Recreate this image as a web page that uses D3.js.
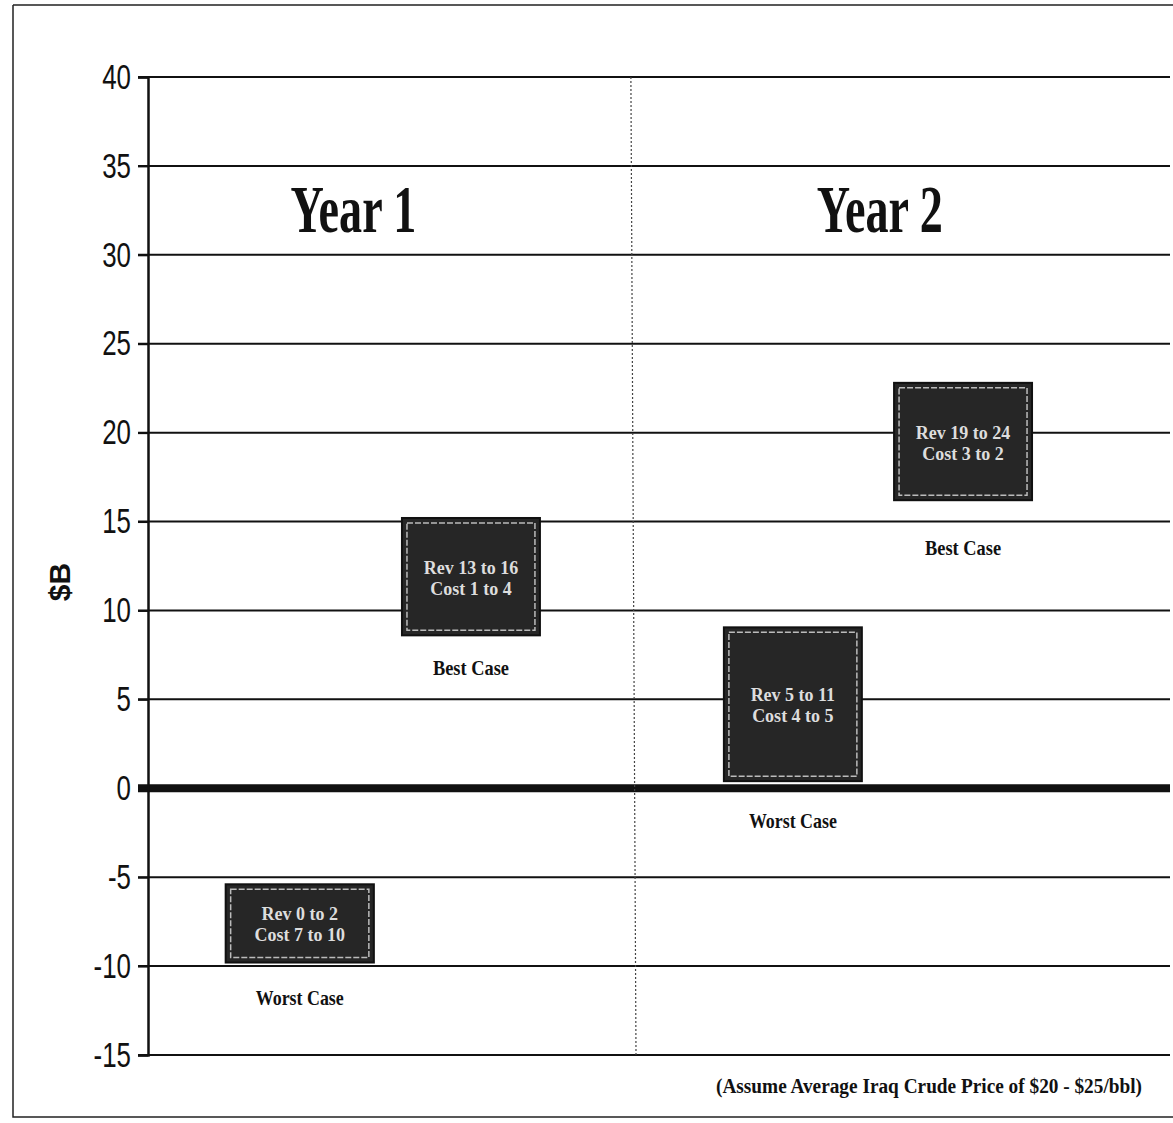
<!DOCTYPE html>
<meta charset="utf-8">
<style>
body { margin: 0; background: #fff; }
svg { display: block; }
</style>
<body>
<script src="https://cdn.jsdelivr.net/npm/d3@7"></script>
<script>
var width = 1173, height = 1123;

// data
var yTicks = [40, 35, 30, 25, 20, 15, 10, 5, 0, -5, -10, -15];
var years = ["Year 1", "Year 2"];
var yearPos = [0.4, 1.43];
var caseNames = ["Best Case", "Worst Case", "Worst Case", "Best Case"];
var caseX = [0.632, 0.297, 1.262, 1.595];
var caseW = [0.27, 0.29, 0.27, 0.27];
var caseHi = [15.2, -5.4, 9.05, 22.8];
var caseLo = [8.6, -9.8, 0.4, 16.2];
var caseLine1 = ["Rev 13 to 16", "Rev 0 to 2", "Rev 5 to 11", "Rev 19 to 24"];
var caseLine2 = ["Cost 1 to 4", "Cost 7 to 10", "Cost 4 to 5", "Cost 3 to 2"];
var note = "(Assume Average Iraq Crude Price of $20 - $25/bbl)";

// gap under each box to its caption (px)
var labelGap = [40, 42, 47, 55];

var svg = d3.select("body").append("svg")
    .attr("width", width)
    .attr("height", height);

// outer page frame
svg.append("path")
    .attr("d", "M13,5 H1173 M13,5 V1117 H1173")
    .attr("fill", "none").attr("stroke", "#222").attr("stroke-width", 1.5);

var y = d3.scaleLinear().domain([-15, 40]).range([1055, 77]);
var x = d3.scaleLinear().domain([0, 2]).range([148, 1170]);

// gridlines
svg.append("g")
  .selectAll("line")
  .data(yTicks)
  .join("line")
    .attr("x1", 138).attr("x2", 1170)
    .attr("y1", function(d) { return y(d); })
    .attr("y2", function(d) { return y(d); })
    .attr("stroke", "#111")
    .attr("stroke-width", function(d) { return d === 0 ? 8 : 2; });

// divider between years
svg.append("line")
    .attr("x1", x(0.945)).attr("x2", x(0.955))
    .attr("y1", y(40)).attr("y2", y(-15))
    .attr("stroke", "#444").attr("stroke-width", 1.2)
    .attr("stroke-dasharray", "2,2");

// y axis
var yAxis = d3.axisLeft(y).tickValues(yTicks).tickSize(10).tickPadding(6)
    .tickFormat(function(d) { return String(d); });
var ga = svg.append("g")
    .attr("transform", "translate(" + x(0) + ",0)")
    .call(yAxis);
ga.select(".domain").attr("stroke", "#111").attr("stroke-width", 2.5);
ga.selectAll(".tick line").attr("stroke", "#111").attr("stroke-width", 2);
ga.selectAll(".tick text")
    .attr("x", 0)
    .attr("transform", "translate(-17,0) scale(0.74,1)")
    .attr("font-family", "Liberation Sans, sans-serif")
    .attr("font-size", 35)
    .attr("fill", "#111");

svg.append("text")
    .attr("transform", "translate(70,582) rotate(-90)")
    .attr("text-anchor", "middle")
    .attr("font-family", "Liberation Sans, sans-serif")
    .attr("font-weight", "bold")
    .attr("font-size", 30)
    .attr("fill", "#111")
    .text("$B");

// year titles
svg.selectAll(".year")
  .data(years)
  .join("text")
    .attr("class", "year")
    .attr("x", function(d, i) { return x(yearPos[i]) - 62; })
    .attr("y", y(31.3))
    .attr("textLength", 126)
    .attr("lengthAdjust", "spacingAndGlyphs")
    .attr("font-family", "Liberation Serif, serif")
    .attr("font-weight", "bold")
    .attr("font-size", 68)
    .attr("fill", "#111")
    .text(function(d) { return d; });

// case boxes
var cases = caseNames.map(function(n, i) {
  return {name: n, cx: caseX[i], w: caseW[i], hi: caseHi[i], lo: caseLo[i], l1: caseLine1[i], l2: caseLine2[i], gap: labelGap[i]};
});

var g = svg.selectAll(".case")
  .data(cases)
  .join("g")
    .attr("class", "case");

g.append("rect")
    .attr("x", function(d) { return x(d.cx - d.w / 2); })
    .attr("y", function(d) { return y(d.hi); })
    .attr("width", function(d) { return x(d.cx + d.w / 2) - x(d.cx - d.w / 2); })
    .attr("height", function(d) { return y(d.lo) - y(d.hi); })
    .attr("fill", "#262626")
    .attr("stroke", "#111")
    .attr("stroke-width", 2);

g.append("rect")
    .attr("x", function(d) { return x(d.cx - d.w / 2) + 5; })
    .attr("y", function(d) { return y(d.hi) + 5; })
    .attr("width", function(d) { return x(d.cx + d.w / 2) - x(d.cx - d.w / 2) - 10; })
    .attr("height", function(d) { return y(d.lo) - y(d.hi) - 10; })
    .attr("fill", "none")
    .attr("stroke", "#bbb")
    .attr("stroke-width", 1.5)
    .attr("stroke-dasharray", "6,2");

g.append("text")
    .attr("x", function(d) { return x(d.cx); })
    .attr("y", function(d) { return (y(d.hi) + y(d.lo)) / 2 - 3; })
    .attr("text-anchor", "middle")
    .attr("font-family", "Liberation Serif, serif")
    .attr("font-weight", "bold")
    .attr("font-size", 18)
    .attr("fill", "#ddd")
    .text(function(d) { return d.l1; });

g.append("text")
    .attr("x", function(d) { return x(d.cx); })
    .attr("y", function(d) { return (y(d.hi) + y(d.lo)) / 2 + 18; })
    .attr("text-anchor", "middle")
    .attr("font-family", "Liberation Serif, serif")
    .attr("font-weight", "bold")
    .attr("font-size", 18)
    .attr("fill", "#ddd")
    .text(function(d) { return d.l2; });

g.append("text")
    .attr("x", function(d) { return x(d.cx); })
    .attr("y", function(d) { return y(d.lo) + d.gap; })
    .attr("text-anchor", "middle")
    .attr("font-family", "Liberation Serif, serif")
    .attr("font-weight", "bold")
    .attr("font-size", 21)
    .attr("textLength", function(d) { return d.name === "Best Case" ? 76 : 88; })
    .attr("lengthAdjust", "spacingAndGlyphs")
    .attr("fill", "#111")
    .text(function(d) { return d.name; });

// footnote
svg.append("text")
    .attr("x", 716).attr("y", 1093)
    .attr("textLength", 426)
    .attr("lengthAdjust", "spacingAndGlyphs")
    .attr("font-family", "Liberation Serif, serif")
    .attr("font-weight", "bold")
    .attr("font-size", 20)
    .attr("fill", "#111")
    .text(note);
</script>
</body>
